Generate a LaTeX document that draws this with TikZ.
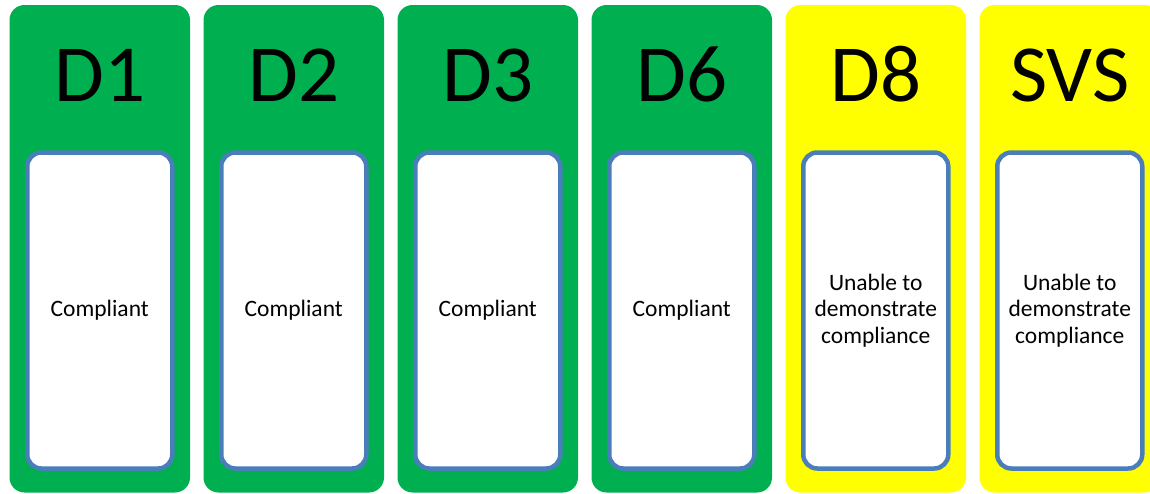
\documentclass[tikz,border=0pt]{standalone}
\usepackage{fontspec}
\setmainfont{Carlito}
\usetikzlibrary{positioning}
\definecolor{passgreen}{HTML}{00B050}
\definecolor{warnyellow}{HTML}{FFFF00}
\definecolor{cardblue}{HTML}{4A7EBB}

\begin{document}
\begin{tikzpicture}[x=1pt, y=-1pt]
\tikzset{
  panel/.style={rectangle, rounded corners=15pt, minimum width=180.5pt, minimum height=487.5pt, inner sep=0pt},
  title/.style={font=\fontsize{81}{81}\selectfont, anchor=base, inner sep=0pt},
  card/.style ={rectangle, rounded corners=14pt, draw=cardblue, line width=4.5pt, fill=white, minimum width=145pt, minimum height=316pt, align=center, font=\fontsize{23.5}{26.5}\selectfont}
}
\useasboundingbox (0,0) rectangle (1150,493);
\node[panel, fill=passgreen]  (d1)  at (99.75,248.75)   {};
\node[panel, fill=passgreen]  (d2)  at (293.75,248.75)  {};
\node[panel, fill=passgreen]  (d3)  at (487.75,248.75)  {};
\node[panel, fill=passgreen]  (d6)  at (681.75,248.75)  {};
\node[panel, fill=warnyellow] (d8)  at (875.75,248.75)  {};
\node[panel, fill=warnyellow] (svs) at (1069.75,248.75) {};
\node[title] (d1h)  at ([yshift=-96.5pt]d1.north)  {D1};
\node[title] (d2h)  at ([yshift=-96.5pt]d2.north)  {D2};
\node[title] (d3h)  at ([yshift=-96.5pt]d3.north)  {D3};
\node[title] (d6h)  at ([yshift=-96.5pt]d6.north)  {D6};
\node[title] (d8h)  at ([yshift=-96.5pt]d8.north)  {D8};
\node[title] (svsh) at ([yshift=-96.5pt]svs.north) {SVS};
\node[card] (d1c)  at ([yshift=-61.75pt]d1.center)  {Compliant};
\node[card] (d2c)  at ([yshift=-61.75pt]d2.center)  {Compliant};
\node[card] (d3c)  at ([yshift=-61.75pt]d3.center)  {Compliant};
\node[card] (d6c)  at ([yshift=-61.75pt]d6.center)  {Compliant};
\node[card] (d8c)  at ([yshift=-61.75pt]d8.center)  {Unable to\\ demonstrate\\ compliance};
\node[card] (svsc) at ([yshift=-61.75pt]svs.center) {Unable to\\ demonstrate\\ compliance};
\end{tikzpicture}
\end{document}
